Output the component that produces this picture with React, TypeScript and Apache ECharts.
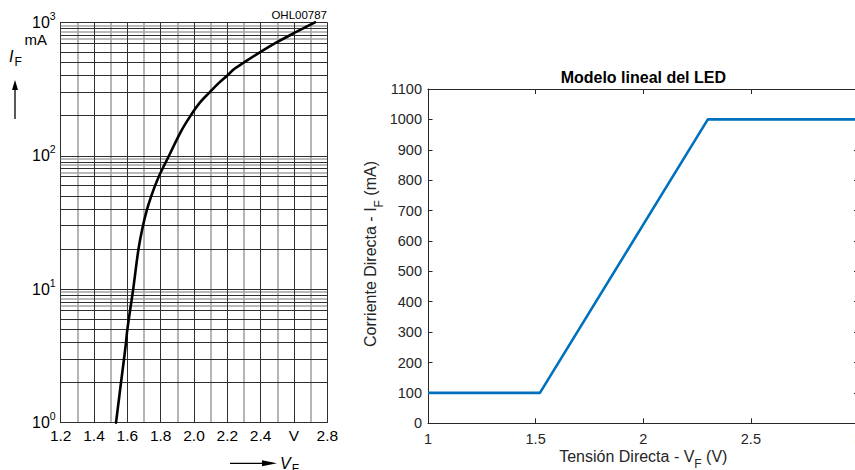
import React, { useEffect, useRef } from "react";
import * as echarts from "echarts";

// ---------- Left chart (datasheet curve) ----------
const curveVoltage = [1.532, 1.562, 1.58, 1.592, 1.6, 1.635, 1.667, 1.694, 1.719, 1.744, 1.767, 1.789, 1.811, 1.85, 1.919, 1.98, 2.035, 2.095, 2.148, 2.2, 2.245, 2.3, 2.4, 2.49, 2.576, 2.655, 2.726];
const curveCurrent = [1, 2, 3, 4, 5, 10, 20, 30, 40, 50, 60, 70, 80, 100, 150, 200, 250, 300, 350, 400, 450, 500, 600, 700, 800, 900, 1000];
const leftXTickLabels = ["1.2", "1.4", "1.6", "1.8", "2.0", "2.2", "2.4", "V", "2.8"];
const leftXTickValues = [1.2, 1.4, 1.6, 1.8, 2.0, 2.2, 2.4, 2.6, 2.8];
const vGridDark = [1.4, 1.6, 1.8, 2.0, 2.2, 2.4, 2.6, 2.8];
const vGridGray = [1.3, 1.5, 1.7, 1.9, 2.1, 2.3, 2.5, 2.7];
const decades = [1, 10, 100];
const hMultDark = [1, 2, 3, 4, 5, 6, 7, 8, 9];
const hMultGray = [7.5, 8.5, 9.5];
const topDecade = 1000;

// ---------- Right chart (linear model) ----------
const modelVoltage = [1, 1.52, 2.3, 3];
const modelCurrent = [100, 100, 1000, 1000];

const FONT = '"Liberation Sans", Arial, Helvetica, sans-serif';
const MAT = "#262626";

export default function App() {
  const ref = useRef<HTMLDivElement>(null);

  useEffect(() => {
    if (!ref.current) return;
    const chart = echarts.init(ref.current, undefined, { renderer: "svg" });

    const hDark: number[] = [];
    decades.forEach((d) => hMultDark.forEach((m) => hDark.push(d * m)));
    hDark.push(topDecade);
    const hGray: number[] = [];
    decades.forEach((d) => hMultGray.forEach((m) => hGray.push(d * m)));

    const darkStyle = { color: "#2e2e2e", width: 1, type: "solid" as const };
    const grayStyle = { color: "#a4a4a4", width: 1.6, type: "solid" as const };

    const option: any = {
      animation: false,
      grid: [
        { left: 60.7, top: 22.3, width: 266.6, height: 400.4, containLabel: false, outerBoundsMode: "none" },
        { left: 428, top: 89, width: 430.5, height: 334.3, containLabel: false, outerBoundsMode: "none" },
      ],
      xAxis: [
        {
          gridIndex: 0,
          type: "value",
          min: 1.2,
          max: 2.8,
          interval: 0.2,
          axisLine: { show: true, onZero: false, lineStyle: { color: "#2e2e2e", width: 1 } },
          axisTick: { show: false },
          splitLine: { show: false },
          axisLabel: {
            color: "#000",
            fontSize: 15.5,
            fontFamily: FONT,
            margin: 5,
            showMinLabel: true,
            showMaxLabel: true,
            formatter: (v: number) => {
              const i = leftXTickValues.findIndex((t) => Math.abs(t - v) < 1e-6);
              return i >= 0 ? leftXTickLabels[i] : "";
            },
          },
        },
        {
          gridIndex: 1,
          type: "value",
          min: 1,
          max: 3,
          interval: 0.5,
          position: "bottom",
          axisLine: { show: true, onZero: false, lineStyle: { color: MAT, width: 1 } },
          axisTick: { show: true, inside: true, length: 5, lineStyle: { color: MAT, width: 1 } },
          splitLine: { show: false },
          axisLabel: { color: MAT, fontSize: 14.5, fontFamily: FONT, margin: 8, formatter: (v: number) => String(v) },
        },
        {
          gridIndex: 1,
          type: "value",
          min: 1,
          max: 3,
          interval: 0.5,
          position: "top",
          axisLine: { show: true, onZero: false, lineStyle: { color: MAT, width: 1 } },
          axisTick: { show: true, inside: true, length: 5, lineStyle: { color: MAT, width: 1 } },
          splitLine: { show: false },
          axisLabel: { show: false },
        },
      ],
      yAxis: [
        {
          gridIndex: 0,
          type: "log",
          logBase: 10,
          min: 1,
          max: 1000,
          axisLine: { show: true, onZero: false, lineStyle: { color: "#2e2e2e", width: 1 } },
          axisTick: { show: false },
          splitLine: { show: false },
          minorTick: { show: false },
          axisLabel: {
            color: "#000",
            fontFamily: FONT,
            margin: 5,
            showMinLabel: true,
            showMaxLabel: true,
            formatter: (v: number) => `{b|10}{s|${Math.round(Math.log10(v))}}`,
            rich: {
              b: { fontSize: 16, fontFamily: FONT, color: "#000" },
              s: { fontSize: 10.5, fontFamily: FONT, color: "#000", padding: [0, 0, 13, 0] },
            },
          },
        },
        {
          gridIndex: 1,
          type: "value",
          min: 0,
          max: 1100,
          interval: 100,
          position: "left",
          axisLine: { show: true, onZero: false, lineStyle: { color: MAT, width: 1 } },
          axisTick: { show: true, inside: true, length: 4.5, lineStyle: { color: MAT, width: 1 } },
          splitLine: { show: false },
          axisLabel: { color: MAT, fontSize: 14.5, fontFamily: FONT, margin: 6, formatter: (v: number) => String(v) },
        },
        {
          gridIndex: 1,
          type: "value",
          min: 0,
          max: 1100,
          interval: 100,
          position: "right",
          axisLine: { show: true, onZero: false, lineStyle: { color: MAT, width: 1 } },
          axisTick: { show: true, inside: true, length: 4.5, lineStyle: { color: MAT, width: 1 } },
          splitLine: { show: false },
          axisLabel: { show: false },
        },
      ],
      series: [
        {
          type: "line",
          xAxisIndex: 0,
          yAxisIndex: 0,
          data: [[1.2, 1]],
          showSymbol: false,
          lineStyle: { width: 0 },
          silent: true,
          z: 1,
          markLine: {
            silent: true,
            symbol: ["none", "none"],
            label: { show: false },
            emphasis: { disabled: true },
            lineStyle: grayStyle,
            data: [
              ...vGridGray.map((x) => ({ xAxis: x, lineStyle: grayStyle })),
              ...hGray.map((y) => ({ yAxis: y, lineStyle: grayStyle })),
            ],
          },
        },
        {
          type: "line",
          xAxisIndex: 0,
          yAxisIndex: 0,
          data: [[1.2, 1]],
          showSymbol: false,
          lineStyle: { width: 0 },
          silent: true,
          z: 2,
          markLine: {
            silent: true,
            symbol: ["none", "none"],
            label: { show: false },
            emphasis: { disabled: true },
            lineStyle: darkStyle,
            data: [
              ...vGridDark.map((x) => ({ xAxis: x, lineStyle: darkStyle })),
              ...hDark.map((y) => ({ yAxis: y, lineStyle: darkStyle })),
            ],
          },
        },
        {
          type: "line",
          xAxisIndex: 0,
          yAxisIndex: 0,
          data: curveVoltage.map((v, i) => [v, curveCurrent[i]]),
          smooth: 0.4,
          showSymbol: false,
          symbol: "none",
          lineStyle: { color: "#000", width: 2.6, cap: "round", join: "round" },
          z: 5,
        },
        {
          type: "line",
          xAxisIndex: 1,
          yAxisIndex: 1,
          data: modelVoltage.map((v, i) => [v, modelCurrent[i]]),
          showSymbol: false,
          symbol: "none",
          lineStyle: { color: "#0072BD", width: 2.6 },
          z: 5,
        },
      ],
      graphic: [
        {
          type: "text",
          x: 327,
          y: 15,
          style: { text: "OHL00787", fontSize: 11.5, fontFamily: FONT, fill: "#000", align: "right", verticalAlign: "middle" },
        },
        {
          type: "text",
          x: 47,
          y: 39.5,
          style: { text: "mA", fontSize: 15, fontFamily: FONT, fill: "#000", align: "right", verticalAlign: "middle" },
        },
        {
          type: "text",
          x: 9,
          y: 56,
          style: {
            text: "{i|I}{s|F}",
            align: "left",
            verticalAlign: "middle",
            rich: {
              i: { fontSize: 16, fontStyle: "italic", fontFamily: FONT, fill: "#000" },
              s: { fontSize: 12, fontFamily: FONT, fill: "#000", padding: [11, 0, 0, 1] },
            },
          },
        },
        {
          type: "line",
          shape: { x1: 15, y1: 119, x2: 15, y2: 86 },
          style: { stroke: "#000", lineWidth: 1.3 },
        },
        {
          type: "polygon",
          shape: { points: [[15, 80], [12, 90], [18, 90]] },
          style: { fill: "#000" },
        },
        {
          type: "line",
          shape: { x1: 230, y1: 463.3, x2: 266, y2: 463.3 },
          style: { stroke: "#000", lineWidth: 1.3 },
        },
        {
          type: "polygon",
          shape: { points: [[277, 463.3], [262, 460.3], [262, 466.3]] },
          style: { fill: "#000" },
        },
        {
          type: "text",
          x: 280,
          y: 463,
          style: {
            text: "{i|V}{s|F}",
            align: "left",
            verticalAlign: "middle",
            rich: {
              i: { fontSize: 16, fontStyle: "italic", fontFamily: FONT, fill: "#000" },
              s: { fontSize: 12, fontFamily: FONT, fill: "#000", padding: [11, 0, 0, 1] },
            },
          },
        },
        {
          type: "text",
          x: 643.3,
          y: 77.5,
          style: { text: "Modelo lineal del LED", fontSize: 16, fontWeight: "bold", fontFamily: FONT, fill: "#000", align: "center", verticalAlign: "middle" },
        },
        {
          type: "text",
          x: 643.3,
          y: 456,
          style: {
            text: "{n|Tensión Directa - V}{s|F}{n| (V)}",
            align: "center",
            verticalAlign: "middle",
            rich: {
              n: { fontSize: 16, fontFamily: FONT, fill: MAT },
              s: { fontSize: 12, fontFamily: FONT, fill: MAT, padding: [16, 0, 0, 0] },
            },
          },
        },
        {
          type: "text",
          x: 370.5,
          y: 254,
          rotation: Math.PI / 2,
          style: {
            text: "{n|Corriente Directa - I}{s|F}{n| (mA)}",
            align: "center",
            verticalAlign: "middle",
            rich: {
              n: { fontSize: 16, fontFamily: FONT, fill: MAT },
              s: { fontSize: 12, fontFamily: FONT, fill: MAT, padding: [16, 0, 0, 0] },
            },
          },
        },
      ],
    };

    chart.setOption(option);
    return () => chart.dispose();
  }, []);

  return (
    <div
      style={{ position: "fixed", left: 0, top: 0, width: 855, height: 470, overflow: "hidden", background: "#fff" }}
    >
      <div ref={ref} style={{ width: 855, height: 470 }} />
    </div>
  );
}
